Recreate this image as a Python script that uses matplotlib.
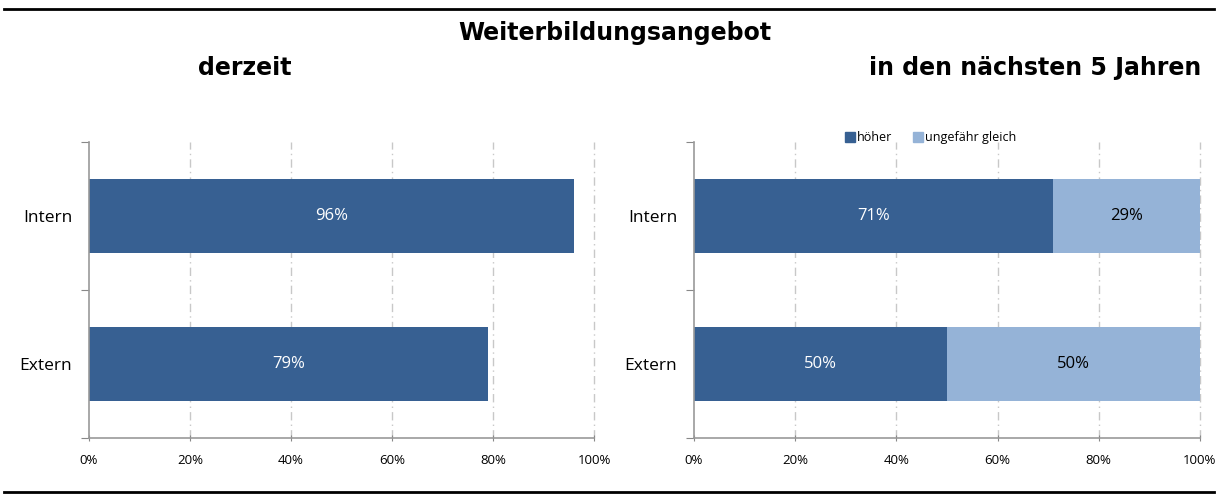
import matplotlib
matplotlib.use("Agg")
import matplotlib.pyplot as plt
from matplotlib.lines import Line2D
from matplotlib.patches import Patch
import numpy as np

categories = ["Extern", "Intern"]
derzeit = [79, 96]
hoeher = [50, 71]
gleich = [50, 29]
xticks = [0, 20, 40, 60, 80, 100]
xticklabels = ["0%", "20%", "40%", "60%", "80%", "100%"]

dark = "#376092"
light = "#95B3D7"
label_font = ["Open Sans", "DejaVu Sans"]

fig = plt.figure(figsize=(12.18, 4.96), dpi=100)

def style_axes(ax):
    ax.set_xlim(0, 100)
    ax.set_ylim(-0.5, 1.5)
    ax.set_xticks(xticks)
    ax.set_xticklabels(xticklabels, fontsize=9.5, family=label_font)
    ax.set_yticks([-0.5, 0.5, 1.5])
    ax.set_yticklabels([])
    ax.set_yticks([0, 1], minor=True)
    ax.set_yticklabels(categories, minor=True, fontsize=12.5, family=label_font)
    ax.tick_params(axis="y", which="minor", length=0, pad=12)
    ax.tick_params(axis="y", which="major", length=6, color="#888888", direction="out")
    ax.tick_params(axis="x", length=5, color="#888888", direction="inout", pad=9)
    for s in ["top", "right"]:
        ax.spines[s].set_visible(False)
    for s in ["left", "bottom"]:
        ax.spines[s].set_color("#999999")
        ax.spines[s].set_linewidth(1.2)
    for x in xticks[1:]:
        ax.axvline(x, color="#c8c8c8", linestyle=(0, (6, 3, 1, 3)), linewidth=1, zorder=0, clip_on=False)

y = np.arange(len(categories))

ax1 = fig.add_axes([0.0731, 0.1169, 0.4146, 0.5968])
style_axes(ax1)
ax1.barh(y, derzeit, height=0.5, color=dark, zorder=2)
for yi, v in zip(y, derzeit):
    ax1.text(v / 2, yi, f"{v}%", ha="center", va="center", color="white", fontsize=12, family=label_font)

ax2 = fig.add_axes([0.5698, 0.1169, 0.4154, 0.5968])
style_axes(ax2)
ax2.barh(y, hoeher, height=0.5, color=dark, zorder=2, label="höher")
ax2.barh(y, gleich, left=hoeher, height=0.5, color=light, zorder=2, label="ungefähr gleich")
for yi, a, b in zip(y, hoeher, gleich):
    ax2.text(a / 2, yi, f"{a}%", ha="center", va="center", color="white", fontsize=12, family=label_font)
    ax2.text(a + b / 2, yi, f"{b}%", ha="center", va="center", color="black", fontsize=12, family=label_font)

handles = [Patch(color=dark, label="höher"), Patch(color=light, label="ungefähr gleich")]
fig.legend(handles=handles, loc="center", bbox_to_anchor=(0.764, 0.722), ncol=2, frameon=False,
           handlelength=0.8, handleheight=0.8, handletextpad=0.2, columnspacing=1.6,
           prop={"family": label_font, "size": 9})

fig.text(0.505, 0.934, "Weiterbildungsangebot", ha="center", va="center", fontsize=17, fontweight="bold",
         family="DejaVu Sans")
fig.text(0.201, 0.863, "derzeit", ha="center", va="center", fontsize=17, fontweight="bold", family="DejaVu Sans")
fig.text(0.986, 0.863, "in den nächsten 5 Jahren", ha="right", va="center", fontsize=17, fontweight="bold",
         family="DejaVu Sans")

fig.add_artist(Line2D([0.003, 0.997], [1 - 9 / 496, 1 - 9 / 496], color="black", linewidth=2, transform=fig.transFigure))
fig.add_artist(Line2D([0.003, 0.997], [1 - 492 / 496, 1 - 492 / 496], color="black", linewidth=2, transform=fig.transFigure))

fig.savefig("out.png", dpi=100)
